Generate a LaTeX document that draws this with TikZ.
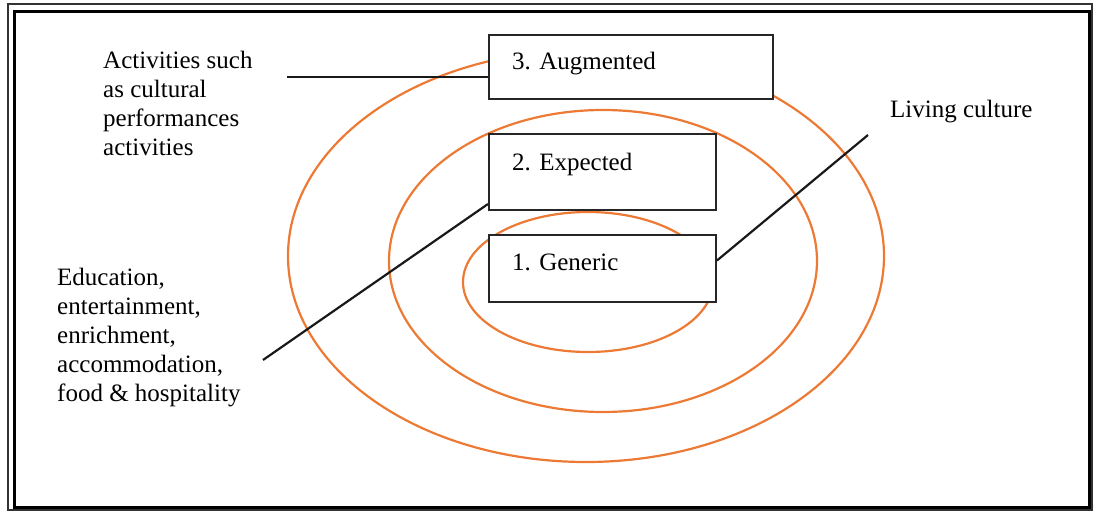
\documentclass[tikz,border=0pt]{standalone}
\usepackage{fontspec}
\setmainfont{Liberation Serif}
\usepackage{tikz}
\usetikzlibrary{shapes.geometric, calc}

\definecolor{ringorange}{RGB}{236,122,52}

\begin{document}
\begin{tikzpicture}[x = 1pt, y = -1pt,
    ring/.style = {draw = ringorange, line width = 2.2pt, shape = ellipse, inner sep = 0pt},
    levelbox/.style = {draw = black!85, fill = white, line width = 2pt, shape = rectangle, inner sep = 0pt},
    boxtext/.style = {anchor = base west, inner sep = 0pt, font = \fontsize{25}{29}\selectfont},
    note/.style = {anchor = north west, align = left, inner sep = 0pt, font = \fontsize{25}{29}\selectfont},
    link/.style = {draw = black!90, line width = 2.2pt}]
    \useasboundingbox (0,0) rectangle (1096,513);
    % frame
    \draw[line width = 1.5pt, black!80] (8,4) rectangle (1092,510);
    \draw[line width = 3pt] (14,12) rectangle (1089,507);
    % rings
    \node[ring, minimum width = 596pt, minimum height = 412pt] (outer) at (586,256) {};
    \node[ring, minimum width = 428pt, minimum height = 302pt] (middle) at (603,261) {};
    \node[ring, minimum width = 250pt, minimum height = 140pt] (inner) at (588,282) {};
    % levels
    \node[levelbox, minimum width = 284pt, minimum height = 64pt] (aug) at (631,67) {};
    \node[levelbox, minimum width = 227pt, minimum height = 76pt] (expd) at (602.5,172) {};
    \node[levelbox, minimum width = 227pt, minimum height = 67pt] (gen) at (602.5,268.5) {};
    \node[boxtext] (augtext) at (512,70) {3. Augmented};
    \node[boxtext] (exptext) at (512,171) {2. Expected};
    \node[boxtext] (gentext) at (512,271) {1. Generic};
    % notes
    \node[note] (activities) at (103,51) {Activities such\\as cultural\\performances\\activities};
    \node[note] (education) at (57,268) {Education,\\entertainment,\\enrichment,\\accommodation,\\food \& hospitality};
    \node[boxtext] (living) at (890,118) {Living culture};
    % pointers
    \coordinate (actEnd) at (287,77);
    \coordinate (eduEnd) at (263,360);
    \coordinate (livEnd) at (868,135);
    \draw[link] (actEnd) -- (actEnd -| aug.west);
    \draw[link] (eduEnd) -- ($(expd.south west) + (0,-7)$);
    \draw[link] ($(gen.east) + (0,-8)$) -- (livEnd);
\end{tikzpicture}
\end{document}
